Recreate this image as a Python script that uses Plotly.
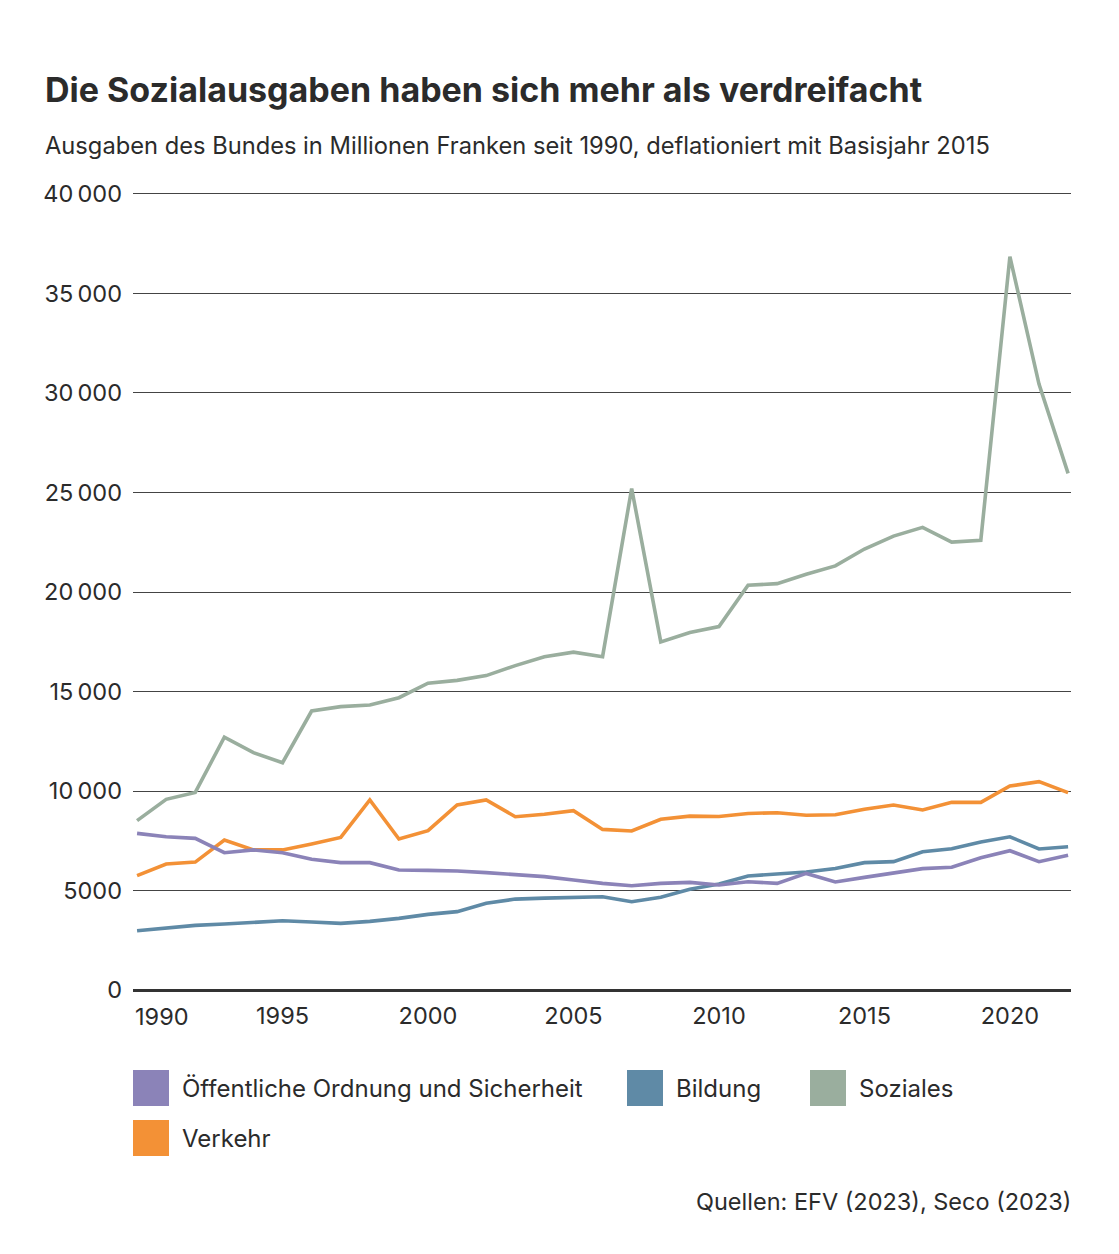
import plotly.graph_objects as go

# Daten (Mio. CHF, real, Basis 2015)
jahre = list(range(1990, 2023))

oeffentliche_ordnung = [7870, 7700, 7620, 6900, 7040, 6900, 6570, 6400, 6400, 6030,
                        6010, 5980, 5900, 5810, 5700, 5530, 5360, 5240, 5360, 5410,
                        5280, 5440, 5360, 5860, 5430, 5660, 5900, 6100, 6170, 6650,
                        7000, 6450, 6770]
bildung = [2980, 3100, 3250, 3320, 3420, 3480, 3420, 3350, 3450, 3600,
           3800, 3940, 4360, 4570, 4620, 4670, 4690, 4440, 4660, 5060,
           5330, 5730, 5830, 5930, 6110, 6400, 6450, 6950, 7100, 7440,
           7700, 7090, 7200]
soziales = [8510, 9580, 9930, 12700, 11930, 11420, 14020, 14240, 14320, 14690,
            15420, 15560, 15800, 16300, 16750, 16980, 16750, 25200, 17490, 17960,
            18260, 20340, 20420, 20890, 21310, 22160, 22810, 23250, 22510, 22600,
            36850, 30450, 25960]
verkehr = [5745, 6330, 6430, 7540, 7040, 7040, 7340, 7670, 9550, 7590,
           8010, 9300, 9550, 8710, 8830, 9010, 8070, 7990, 8580, 8740,
           8720, 8870, 8910, 8780, 8810, 9080, 9300, 9050, 9430, 9430,
           10250, 10470, 9920]

namen = ["Öffentliche Ordnung und Sicherheit", "Bildung", "Soziales", "Verkehr"]
farben = ["#8b83b8", "#5f8aa6", "#9aae9e", "#f39136"]
reihen = [oeffentliche_ordnung, bildung, soziales, verkehr]

y_ticks = [0, 5000, 10000, 15000, 20000, 25000, 30000, 35000, 40000]
y_labels = ["0", "5000", "10\u2009000", "15\u2009000", "20\u2009000",
            "25\u2009000", "30\u2009000", "35\u2009000", "40\u2009000"]
x_ticks = [1995, 2000, 2005, 2010, 2015, 2020]

FONT = "Inter"
TEXT = "#2b2b2b"

# Layout in Pixel
W, H = 1119, 1254
ML, MR, MT, MB = 133, 48, 188, 258
PW, PH = W - ML - MR, H - MT - MB


def px_x(x):
    return (x - ML) / PW


def px_y(y):
    return (H - MB - y) / PH


fig = go.Figure()

# Zeichenreihenfolge: Soziales, Verkehr, Bildung, Öffentliche Ordnung
for i in [2, 3, 1, 0]:
    fig.add_trace(go.Scatter(
        x=jahre, y=reihen[i], name=namen[i], mode="lines",
        line=dict(color=farben[i], width=3.6),
        showlegend=False,
    ))

fig.update_layout(
    width=W, height=H,
    margin=dict(l=ML, r=MR, t=MT, b=MB),
    paper_bgcolor="white", plot_bgcolor="white",
    font=dict(family=FONT, color=TEXT, size=23),
    xaxis=dict(
        range=[1989.86, 2022.1],
        tickvals=x_ticks, ticktext=[str(v) for v in x_ticks],
        showgrid=False, zeroline=False, showline=False,
        ticks="", ticklabelstandoff=3,
        tickfont=dict(size=23.5, color=TEXT),
    ),
    yaxis=dict(
        range=[-300, 40300],
        tickvals=y_ticks, ticktext=y_labels,
        showgrid=True, gridcolor="#444444", gridwidth=1,
        zeroline=True, zerolinecolor="#333333", zerolinewidth=3,
        showline=False, ticks="", ticklabelstandoff=10,
        tickfont=dict(size=23.5, color=TEXT),
    ),
)

annotations = [
    dict(text="<b>Die Sozialausgaben haben sich mehr als verdreifacht</b>",
         x=px_x(43), y=px_y(89), xanchor="left", yanchor="middle",
         font=dict(size=34, color=TEXT)),
    dict(text="Ausgaben des Bundes in Millionen Franken seit 1990, deflationiert mit Basisjahr 2015",
         x=px_x(43), y=px_y(145), xanchor="left", yanchor="middle",
         font=dict(size=23.7, color=TEXT)),
    dict(text="1990", x=0, y=px_y(1016), xanchor="left", yanchor="middle",
         font=dict(size=23.5, color=TEXT)),
    dict(text="Quellen: EFV (2023), Seco (2023)",
         x=px_x(1073), y=px_y(1201), xanchor="right", yanchor="middle",
         font=dict(size=23.5, color=TEXT)),
]

# Legende mit grossen Quadraten
leg_x = [133, 627, 810, 133]
leg_y = [1088, 1088, 1088, 1138]
shapes = []
for name, col, lx, ly in zip(namen, farben, leg_x, leg_y):
    shapes.append(dict(type="rect", xref="paper", yref="paper",
                       x0=px_x(lx), x1=px_x(lx + 36),
                       y0=px_y(ly + 18), y1=px_y(ly - 18),
                       fillcolor=col, line=dict(width=0)))
    annotations.append(dict(text=name, x=px_x(lx + 47), y=px_y(ly),
                            xanchor="left", yanchor="middle",
                            font=dict(size=24, color=TEXT)))

for a in annotations:
    a.update(xref="paper", yref="paper", showarrow=False)

fig.update_layout(annotations=annotations, shapes=shapes)

# Seitenrand des Browsers entfernen, damit die Grafik bei 0/0 beginnt
fig.write_html("out.html", config={"displayModeBar": False},
               post_script="document.body.style.margin='0';")
